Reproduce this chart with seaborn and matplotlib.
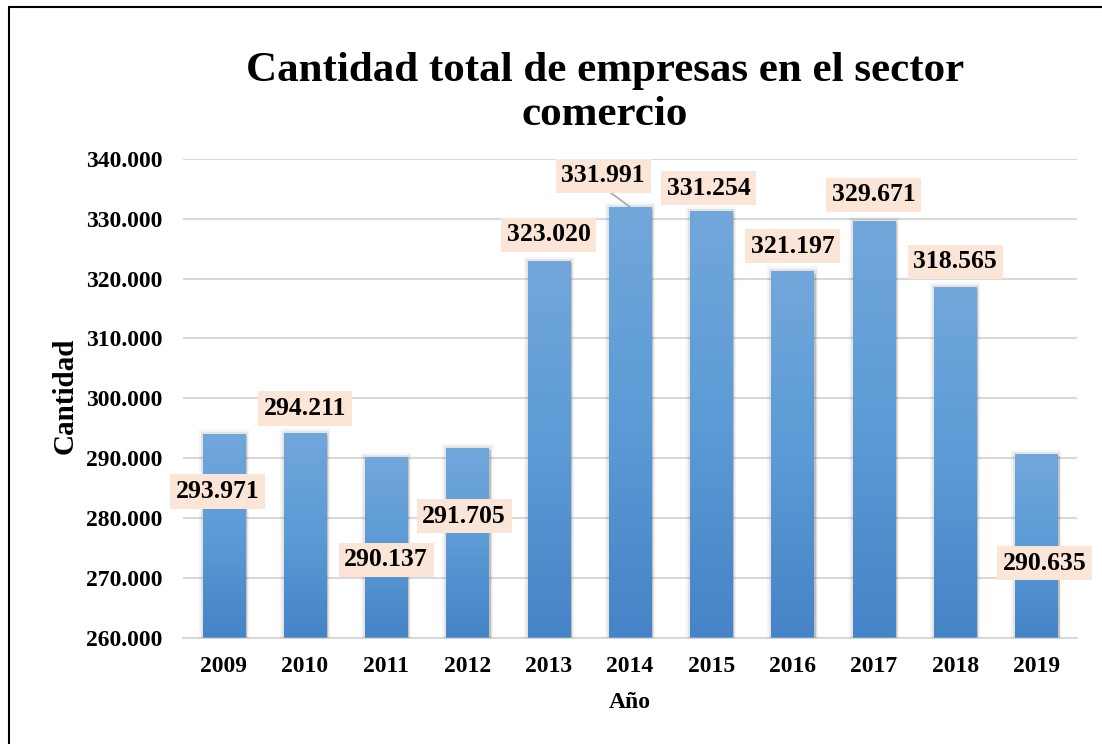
"""Cantidad total de empresas en el sector comercio (2009-2019)."""

import matplotlib

matplotlib.use("Agg")

import matplotlib.pyplot as plt
import matplotlib.patheffects as pe
import numpy as np
import seaborn as sns
from matplotlib.colors import LinearSegmentedColormap
from matplotlib.lines import Line2D

years = ["2009", "2010", "2011", "2012", "2013", "2014", "2015", "2016", "2017", "2018", "2019"]
empresas = [293971, 294211, 290137, 291705, 323020, 331991, 331254, 321197, 329671, 318565, 290635]
y_ticks = [260000, 270000, 280000, 290000, 300000, 310000, 320000, 330000, 340000]

# where each data label sits (category offset, y in data units)
label_dx = [-0.07, 0.0, 0.0, -0.04, 0.0, -0.33, -0.03, 0.0, 0.0, 0.0, 0.1]
label_y = [284400, 298300, 273000, 280300, 327300, 337200, 335100, 325400, 334000, 322800, 272400]

SERIF = ["Liberation Serif", "DejaVu Serif"]


def fmt_miles(v):
    return f"{int(round(v)):,}".replace(",", ".")


sns.set_theme(style="white")
plt.rcParams["font.family"] = SERIF
plt.rcParams["font.weight"] = "bold"
for key in ["text.color", "axes.labelcolor", "xtick.color", "ytick.color"]:
    plt.rcParams[key] = "black"

fig = plt.figure(figsize=(11.02, 7.44), dpi=100)
ax = fig.add_axes([183 / 1102, 1 - 637.5 / 744, 894 / 1102, 478.5 / 744])

sns.barplot(x=years, y=empresas, color="#5B9BD5", width=0.52, ax=ax, zorder=3,
            edgecolor="none", linewidth=0)
ax.set_ylim(y_ticks[0], y_ticks[-1])
ax.set_xlim(-0.5, len(years) - 0.5)

grad = LinearSegmentedColormap.from_list("bar", ["#4584C6", "#5B9BD6", "#72A7DB"])
shadow = [
    pe.SimplePatchShadow(offset=(1.5, -1.5), shadow_rgbFace="#808080", alpha=0.3),
    pe.Stroke(linewidth=6, foreground="#000000", alpha=0.04),
    pe.Stroke(linewidth=3.5, foreground="#000000", alpha=0.07),
    pe.Normal(),
]
for bar in ax.patches:
    bar.set_path_effects(shadow)
    x0 = bar.get_x()
    x1 = x0 + bar.get_width()
    top = bar.get_height()
    img = ax.imshow(
        np.linspace(0, 1, 256).reshape(-1, 1),
        cmap=grad,
        origin="lower",
        aspect="auto",
        extent=[x0, x1, y_ticks[0], top],
        zorder=4,
    )
    img.set_clip_path(bar)
ax.set_ylim(y_ticks[0], y_ticks[-1])
ax.set_xlim(-0.5, len(years) - 0.5)

for i, v in enumerate(empresas):
    lead = abs(label_dx[i]) > 0.2
    ax.annotate(
        fmt_miles(v),
        xy=(i, v),
        xytext=(i + label_dx[i], label_y[i]),
        ha="center",
        va="center",
        fontsize=18.5,
        fontweight="bold",
        color="black",
        zorder=6,
        bbox=dict(boxstyle="square,pad=0.22", fc="#FBE5D6", ec="none"),
        arrowprops=dict(arrowstyle="-", color="#A6A6A6", lw=1.2, relpos=(0.5, 0.0), shrinkA=0, shrinkB=0)
        if lead
        else None,
    )

ax.set_yticks(y_ticks)
ax.set_yticklabels([fmt_miles(t) for t in y_ticks])
ax.yaxis.grid(True, color="#D9D9D9", linewidth=1.5)
ax.set_axisbelow(True)
for side in ["top", "right", "left"]:
    ax.spines[side].set_visible(False)
ax.spines["bottom"].set_color("#D9D9D9")
ax.spines["bottom"].set_linewidth(1.5)
ax.tick_params(axis="y", length=0, pad=15, labelsize=17)
ax.tick_params(axis="x", length=0, pad=13, labelsize=17)
for lbl in ax.get_xticklabels() + ax.get_yticklabels():
    lbl.set_fontweight("bold")

ax.set_xlabel("Año", fontsize=17, fontweight="bold")
ax.set_ylabel("Cantidad", fontsize=21, fontweight="bold")
ax.xaxis.set_label_coords((630 - 183) / 894, -(692 - 637.5) / 478.5)
ax.yaxis.set_label_coords(-(183 - 79) / 894, (637.5 - 396) / 478.5)

fig.text(605 / 1102, 1 - 93 / 744, "Cantidad total de empresas en el sector\ncomercio",
         ha="center", va="center", fontsize=31, fontweight="bold", linespacing=1.22)

# frame lines on the left and top edge
fig.add_artist(Line2D([9 / 1102, 9 / 1102], [0, 1 - 7 / 744], color="black", lw=1.5))
fig.add_artist(Line2D([9 / 1102, 1], [1 - 7 / 744, 1 - 7 / 744], color="black", lw=1.5))

fig.savefig("out.png", dpi=100)
plt.close(fig)
